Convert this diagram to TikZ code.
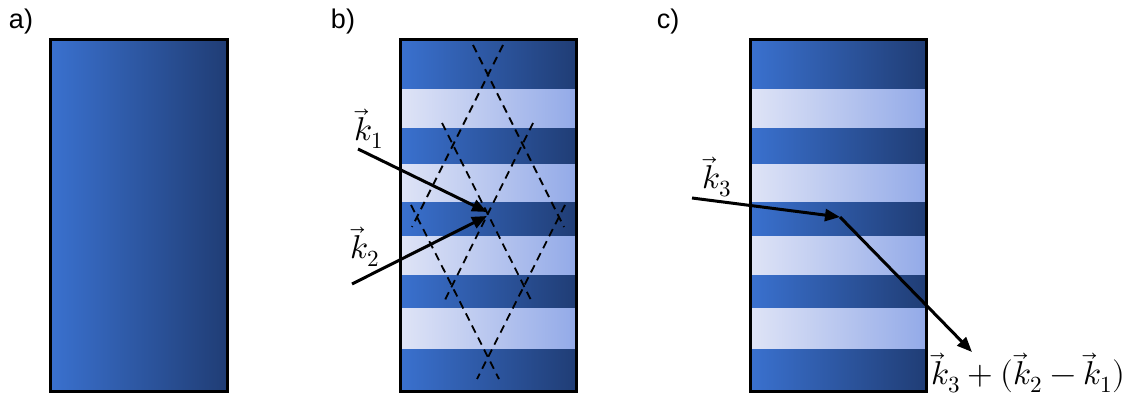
\documentclass[tikz,border=0pt]{standalone}
\usepackage{fontspec}
\usepackage{unicode-math}
\setmainfont{Liberation Sans}
\setmathfont{Latin Modern Math}
\usetikzlibrary{arrows.meta}
\definecolor{dkL}{HTML}{3A71CF}
\definecolor{dkR}{HTML}{203D75}
\definecolor{ltL}{HTML}{DFE4F6}
\definecolor{ltR}{HTML}{93AAE8}
\begin{document}
\begin{tikzpicture}[x=1pt,y=-1pt,
  darkfill/.style={left color=dkL,right color=dkR,draw=none},
  lightfill/.style={left color=ltL,right color=ltR,draw=none},
  frame/.style={draw=black,line width=3pt},
  beam/.style={line width=3pt,-{Triangle[length=15pt,width=12pt]}},
  grating/.style={line width=1.8pt,dash pattern=on 8pt off 5.5pt},
  panellabel/.style={font=\fontsize{27}{30}\selectfont,inner sep=0pt},
  mathlabel/.style={font=\fontsize{33}{36}\selectfont,inner sep=0pt}]
\useasboundingbox (0,0) rectangle (1128,398);
% panel labels
\node[panellabel] (la) at (21,22) {a)};
\node[panellabel] (lb) at (343,22) {b)};
\node[panellabel] (lc) at (668,22) {c)};
% panel a
\fill[darkfill] (50,40) rectangle (227,391);
\draw[frame] (50,40) rectangle (227,391);
% panels b and c
\foreach \x in {400,750}{
  \fill[darkfill] (\x,40) rectangle (\x+176,391);
  \foreach \ya/\yb in {90/128,165/202,237/275,309/348}{
    \fill[lightfill] (\x,\ya) rectangle (\x+176,\yb);
  }
  \draw[frame] (\x,40) rectangle (\x+176,391);
}
% grating lines in b
\draw[grating] (473,45) -- (564,227);
\draw[grating] (503,45) -- (412,227);
\draw[grating] (411,205) -- (499,379);
\draw[grating] (565,205) -- (477,379);
\draw[grating] (442,123) -- (532,302);
\draw[grating] (533,123) -- (444,302);
% beams in b
\coordinate (k1s) at (358,149);
\coordinate (k2s) at (352,284);
\coordinate (kx1) at (487,212);
\coordinate (kx2) at (487,216);
\draw[beam] (k1s) -- (kx1);
\draw[beam] (k2s) -- (kx2);
\node[mathlabel] (k1) at (369,129) {$\vec{k}_1$};
\node[mathlabel] (k2) at (365,247) {$\vec{k}_2$};
% beams in c
\coordinate (k3s) at (692,198);
\coordinate (k3e) at (840,217);
\coordinate (k4e) at (972,352);
\draw[beam] (k3s) -- (k3e);
\draw[beam] (k3e) -- (k4e);
\node[mathlabel] (k3) at (717,177) {$\vec{k}_3$};
\node[mathlabel,anchor=west] (kr) at (931,373) {$\vec{k}_3+(\vec{k}_2-\vec{k}_1)$};
\end{tikzpicture}
\end{document}
